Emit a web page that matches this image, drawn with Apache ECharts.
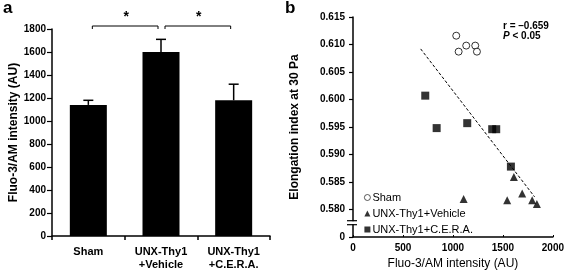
<!DOCTYPE html>
<html>
<head>
<meta charset="utf-8">
<script src="https://cdn.jsdelivr.net/npm/echarts@6/dist/echarts.min.js"></script>
<style>
  html, body { margin: 0; padding: 0; background: #fff; }
  #chart { width: 567px; height: 275px; }
</style>
</head>
<body>
<div id="chart"></div>
<script>
// panel a: bar chart
const barCats = ['Sham', 'UNX-Thy1\n+Vehicle', 'UNX-Thy1\n+C.E.R.A.'];
const barMeans = [1140, 1600, 1180];
const barErrs = [40, 110, 140];
const sigPairs = [[0, 1], [1, 2]];
const sigLevel = 1826;
const starLevel = 1905;

// panel b: scatter
const shamPts = [[1033, 0.6116], [1057, 0.6087], [1133, 0.6098], [1223, 0.6098], [1240, 0.6087]];
const vehiclePts = [[1107, 0.5819], [1543, 0.5817], [1610, 0.5859], [1693, 0.5829], [1793, 0.5817], [1840, 0.5810]];
const ceraPts = [[723, 0.6007], [837, 0.5948], [1143, 0.5957], [1393, 0.5946], [1433, 0.5946], [1580, 0.5878]];
const trendPts = [[677, 0.6092], [1817, 0.5823]];
const breakAt = [[0, 0.5776]];

const FONT = 'Arial, "Liberation Sans", sans-serif';

let chartDom = document.getElementById('chart');
let myChart = echarts.init(chartDom);

let option = {
  animation: false,
  textStyle: { fontFamily: FONT, color: '#000' },
  grid: [
    { left: 52, top: 29, width: 218, height: 207 },
    { left: 353, top: 17, width: 201, height: 220 },
  ],
  legend: {
    orient: 'vertical',
    left: 359,
    top: 187,
    itemGap: 5,
    itemWidth: 6,
    itemHeight: 6,
    textStyle: { fontFamily: FONT, fontSize: 11, color: '#000', padding: [0, 0, 0, -3] },
    data: [
      { name: 'Sham', icon: 'circle', itemStyle: { color: '#fff', borderColor: '#000', borderWidth: 0.8 } },
      'UNX-Thy1+Vehicle',
      'UNX-Thy1+C.E.R.A.',
    ],
  },
  xAxis: [
    {
      gridIndex: 0,
      type: 'category',
      data: barCats,
      axisLine: { lineStyle: { color: '#000', width: 1.5 } },
      axisTick: { show: true, alignWithLabel: false, length: 4, lineStyle: { color: '#000', width: 1.5 } },
      axisLabel: { color: '#000', fontWeight: 'bold', fontSize: 11, lineHeight: 13, margin: 9 },
    },
    {
      gridIndex: 1,
      type: 'value',
      min: 0,
      max: 2000,
      interval: 500,
      splitLine: { show: false },
      axisLine: { lineStyle: { color: '#000', width: 1.5 } },
      axisTick: { show: true, inside: true, length: 2, lineStyle: { color: '#000' } },
      axisLabel: { color: '#000', fontWeight: 'bold', fontSize: 10, margin: 6, formatter: (v) => String(v) },
      name: 'Fluo-3/AM intensity (AU)',
      nameLocation: 'middle',
      nameGap: 21,
      nameTextStyle: { fontFamily: FONT, fontSize: 12, color: '#000' },
    },
  ],
  yAxis: [
    {
      gridIndex: 0,
      type: 'value',
      min: 0,
      max: 1800,
      interval: 200,
      splitLine: { show: false },
      axisLine: { show: true, lineStyle: { color: '#000', width: 1.5 } },
      axisTick: { show: true, length: 5, lineStyle: { color: '#000', width: 1.2 } },
      axisLabel: { color: '#000', fontWeight: 'bold', fontSize: 10, margin: 6, formatter: (v) => String(v) },
      name: 'Fluo-3/AM intensity (AU)',
      nameLocation: 'middle',
      nameGap: 32,
      nameTextStyle: { fontFamily: FONT, fontSize: 12, fontWeight: 'bold', color: '#000' },
    },
    {
      gridIndex: 1,
      type: 'value',
      min: 0.575,
      max: 0.615,
      interval: 0.005,
      splitLine: { show: false },
      axisLine: { show: true, lineStyle: { color: '#000', width: 1.5 } },
      axisTick: { show: true, length: 4, lineStyle: { color: '#000', width: 1.2 } },
      axisLabel: {
        color: '#000', fontWeight: 'bold', fontSize: 10, margin: 8,
        formatter: (v) => (v < 0.5775 ? '0' : v.toFixed(3)),
      },
      name: 'Elongation index at 30 Pa',
      nameLocation: 'middle',
      nameGap: 52,
      nameTextStyle: { fontFamily: FONT, fontSize: 12, fontWeight: 'bold', color: '#000' },
    },
  ],
  graphic: [
    { type: 'text', left: 3, top: 0, style: { text: 'a', font: 'bold 17px ' + FONT, fill: '#000' } },
    { type: 'text', left: 285, top: 0, style: { text: 'b', font: 'bold 17px ' + FONT, fill: '#000' } },
    {
      type: 'text', left: 503, top: 21,
      style: {
        text: 'r = \u20130.659\n{i|P} < 0.05',
        font: 'bold 10px ' + FONT,
        lineHeight: 10,
        fill: '#000',
        rich: { i: { fontStyle: 'italic', fontWeight: 'bold', fontSize: 10, fontFamily: FONT } },
      },
    },
  ],
  series: [
    {
      type: 'bar',
      xAxisIndex: 0,
      yAxisIndex: 0,
      barWidth: 37,
      itemStyle: { color: '#000' },
      data: barMeans,
    },
    {
      // upper error bars
      type: 'custom',
      xAxisIndex: 0,
      yAxisIndex: 0,
      data: barMeans.map((m, i) => [i, m, m + barErrs[i]]),
      renderItem: (params, api) => {
        const lo = api.coord([api.value(0), api.value(1)]);
        const hi = api.coord([api.value(0), api.value(2)]);
        const st = { stroke: '#000', lineWidth: 1.5 };
        return {
          type: 'group',
          children: [
            { type: 'line', shape: { x1: lo[0], y1: lo[1], x2: hi[0], y2: hi[1] }, style: st },
            { type: 'line', shape: { x1: hi[0] - 5, y1: hi[1], x2: hi[0] + 5, y2: hi[1] }, style: st },
          ],
        };
      },
      z: 3,
    },
    {
      // significance brackets
      type: 'custom',
      xAxisIndex: 0,
      yAxisIndex: 0,
      clip: false,
      data: sigPairs.map((p) => [p[0], p[1], sigLevel, starLevel]),
      renderItem: (params, api) => {
        const a = api.coord([api.value(0), api.value(2)]);
        const b = api.coord([api.value(1), api.value(2)]);
        const s = api.coord([(api.value(0) + api.value(1)) / 2, api.value(3)]);
        const x1 = a[0] + 4;
        const x2 = b[0] - 3;
        const st = { stroke: '#000', lineWidth: 1 };
        return {
          type: 'group',
          children: [
            { type: 'line', shape: { x1: x1, y1: a[1], x2: x2, y2: a[1] }, style: st },
            { type: 'line', shape: { x1: x1, y1: a[1], x2: x1, y2: a[1] + 3 }, style: st },
            { type: 'line', shape: { x1: x2, y1: a[1], x2: x2, y2: a[1] + 3 }, style: st },
            {
              type: 'text',
              x: (x1 + x2) / 2 + 1,
              y: s[1],
              style: { text: '*', font: 'bold 14px ' + FONT, fill: '#000', align: 'center', verticalAlign: 'middle' },
            },
          ],
        };
      },
    },
    {
      name: 'trend',
      type: 'line',
      xAxisIndex: 1,
      yAxisIndex: 1,
      data: trendPts,
      symbol: 'none',
      lineStyle: { color: '#000', width: 1, type: [3, 2] },
      z: 1,
    },
    {
      name: 'Sham',
      type: 'scatter',
      xAxisIndex: 1,
      yAxisIndex: 1,
      data: shamPts,
      symbol: 'circle',
      symbolSize: 7,
      itemStyle: { color: '#fff', borderColor: '#000', borderWidth: 1 },
    },
    {
      name: 'UNX-Thy1+Vehicle',
      type: 'scatter',
      xAxisIndex: 1,
      yAxisIndex: 1,
      data: vehiclePts,
      symbol: 'triangle',
      symbolSize: 8,
      itemStyle: { color: '#000' },
    },
    {
      name: 'UNX-Thy1+C.E.R.A.',
      type: 'scatter',
      xAxisIndex: 1,
      yAxisIndex: 1,
      data: ceraPts,
      symbol: 'rect',
      symbolSize: 8,
      itemStyle: { color: '#000' },
    },
    {
      // axis break marks on panel b
      type: 'custom',
      xAxisIndex: 1,
      yAxisIndex: 1,
      clip: false,
      silent: true,
      data: breakAt,
      renderItem: (params, api) => {
        const p = api.coord([api.value(0), api.value(1)]);
        const x = p[0] - 1;
        const st = { stroke: '#000', lineWidth: 1.2 };
        return {
          type: 'group',
          children: [
            { type: 'rect', shape: { x: x - 2, y: p[1] - 1.5, width: 4, height: 3 }, style: { fill: '#fff' } },
            { type: 'line', shape: { x1: x - 5, y1: p[1] - 2, x2: x + 5, y2: p[1] - 2 }, style: st },
            { type: 'line', shape: { x1: x - 5, y1: p[1] + 2, x2: x + 5, y2: p[1] + 2 }, style: st },
          ],
        };
      },
      z: 5,
    },
  ],
};

option && myChart.setOption(option);
</script>
</body>
</html>
